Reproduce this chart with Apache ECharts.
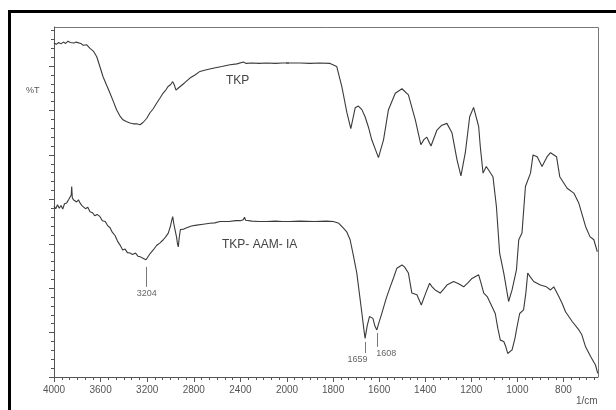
<!DOCTYPE html>
<html>
<head>
<meta charset="utf-8">
<script src="https://cdn.jsdelivr.net/npm/echarts@6/dist/echarts.min.js"></script>
<style>
  html, body { margin: 0; padding: 0; background: #fff; }
  #chart { width: 616px; height: 410px; }
</style>
</head>
<body>
<div id="chart"></div>
<script>
// wavenumber (1/cm), %T (arbitrary)
const tkp = [
  [4000, 75.2], [3980, 74.9], [3960, 75.3], [3940, 75.0], [3920, 75.4], [3900, 75.1],
  [3880, 75.6], [3860, 75.3], [3848, 75.7], [3830, 75.2], [3810, 75.4], [3794, 75.0],
  [3770, 75.1], [3750, 74.7], [3719, 74.8], [3691, 74.0], [3660, 73.3], [3633, 72.1],
  [3605, 69.8], [3579, 67.6], [3550, 65.8], [3519, 63.9], [3490, 62.0], [3462, 60.1],
  [3435, 58.8], [3408, 57.9], [3380, 57.5], [3348, 57.2], [3320, 57.0], [3290, 57.0],
  [3262, 56.8], [3236, 57.3], [3205, 58.2], [3176, 59.5], [3148, 60.4], [3118, 61.7],
  [3090, 62.8], [3064, 63.9], [3040, 64.6], [3021, 65.4], [3000, 65.8], [2981, 66.5],
  [2968, 65.8], [2953, 64.6], [2935, 65.0], [2918, 65.4], [2880, 66.2], [2833, 67.3],
  [2790, 68.0], [2747, 68.8], [2700, 69.1], [2635, 69.5], [2560, 69.9], [2489, 70.3],
  [2430, 70.5], [2375, 70.9], [2350, 70.6], [2300, 70.7], [2240, 70.6], [2174, 70.7],
  [2100, 70.6], [2040, 70.7], [1990, 70.7], [1943, 70.7], [1900, 70.6], [1860, 70.7],
  [1813, 70.6], [1784, 69.9], [1762, 65.4], [1740, 59.5], [1723, 55.9], [1704, 60.6],
  [1690, 61.0], [1675, 60.2], [1661, 58.6], [1645, 56.0], [1632, 53.4], [1603, 49.4],
  [1581, 53.4], [1560, 60.1], [1530, 63.9], [1501, 64.9], [1473, 63.5], [1443, 57.9],
  [1419, 52.3], [1405, 53.5], [1393, 54.0], [1375, 52.0], [1349, 55.6], [1330, 56.6],
  [1306, 57.1], [1284, 55.0], [1262, 48.9], [1245, 45.3], [1226, 50.5], [1207, 58.6],
  [1190, 60.7], [1168, 56.4], [1161, 51.9], [1149, 45.9], [1135, 47.4], [1120, 46.2],
  [1106, 45.1], [1091, 38.4], [1077, 27.9], [1059, 23.4], [1038, 17.0], [1023, 19.6],
  [1004, 24.1], [994, 30.9], [980, 32.4], [965, 42.9], [943, 45.9], [932, 50.0],
  [914, 49.6], [893, 47.4], [871, 49.6], [856, 50.5], [830, 49.6], [816, 45.1],
  [784, 42.5], [755, 41.4], [733, 39.1], [704, 33.9], [685, 31.6], [668, 30.9], [653, 28.2]
];

const tkpAamIa = [
  [4000, 38.4], [3985, 37.9], [3970, 38.8], [3955, 38.0], [3940, 38.6], [3925, 37.8],
  [3910, 39.0], [3891, 39.2], [3875, 39.9], [3860, 39.5], [3852, 41.0], [3848, 42.9],
  [3843, 40.4], [3834, 39.9], [3820, 40.3], [3805, 39.4], [3790, 39.9], [3777, 39.2],
  [3760, 38.6], [3745, 39.0], [3730, 37.9], [3710, 38.2], [3691, 37.2], [3670, 37.0],
  [3650, 36.3], [3630, 36.6], [3605, 36.1], [3585, 35.2], [3560, 35.0], [3540, 34.1],
  [3519, 33.6], [3500, 32.6], [3475, 31.8], [3455, 30.6], [3433, 29.7], [3410, 28.6],
  [3390, 28.8], [3370, 28.0], [3348, 27.9], [3325, 27.6], [3300, 27.9], [3280, 27.2],
  [3262, 27.1], [3240, 26.8], [3225, 27.0], [3210, 26.4], [3195, 26.8], [3175, 27.8],
  [3148, 28.6], [3120, 29.6], [3090, 30.2], [3062, 30.9], [3040, 31.6], [3019, 32.4],
  [3000, 34.0], [2990, 35.2], [2981, 36.1], [2972, 34.6], [2961, 33.1], [2948, 31.5],
  [2940, 30.0], [2933, 29.3], [2925, 31.4], [2915, 33.2], [2904, 33.6], [2885, 33.3],
  [2861, 33.6], [2820, 34.0], [2775, 34.2], [2720, 34.4], [2661, 34.6], [2620, 34.7],
  [2575, 35.0], [2500, 35.0], [2440, 35.2], [2400, 35.2], [2375, 35.4], [2365, 36.0],
  [2355, 35.3], [2300, 35.1], [2240, 35.0], [2174, 35.0], [2100, 35.1], [2040, 35.0],
  [1990, 35.0], [1943, 35.1], [1880, 35.0], [1830, 35.1], [1799, 35.0], [1775, 34.6],
  [1755, 33.5], [1740, 32.6], [1726, 30.9], [1712, 27.4], [1697, 23.4], [1685, 18.5],
  [1675, 14.4], [1667, 11.0], [1661, 8.7], [1652, 11.5], [1642, 13.6], [1635, 13.8],
  [1627, 13.2], [1618, 11.4], [1610, 10.6], [1600, 12.4], [1588, 14.4], [1570, 17.6],
  [1552, 20.3], [1537, 22.4], [1523, 24.5], [1501, 25.2], [1490, 24.8], [1473, 23.4],
  [1458, 18.9], [1436, 18.5], [1417, 16.2], [1400, 18.6], [1381, 21.1], [1370, 20.3],
  [1357, 19.6], [1335, 18.9], [1320, 19.8], [1306, 20.7], [1277, 21.5], [1255, 21.0],
  [1233, 20.3], [1215, 21.2], [1197, 22.2], [1168, 23.0], [1158, 21.2], [1146, 18.9],
  [1131, 18.1], [1117, 16.6], [1096, 14.3], [1085, 11.0], [1074, 8.3], [1059, 8.0],
  [1050, 6.8], [1042, 5.3], [1023, 6.1], [1010, 8.8], [1004, 10.6], [990, 14.3],
  [973, 15.1], [963, 19.0], [955, 23.4], [945, 22.6], [929, 21.5], [900, 20.7],
  [874, 20.3], [856, 19.6], [842, 20.3], [820, 18.1], [805, 16.5], [791, 14.7],
  [762, 12.5], [733, 10.6], [720, 9.5], [704, 6.8], [682, 4.6], [661, 2.7], [651, 0.8]
];

// peak markers: [wavenumber, top, bottom]
const peak3204 = [3204, 24.8, 20.3];
const peak1659 = [1659, 7.9, 5.4];
const peak1608 = [1608, 9.9, 6.8];

// tick labels, the x scale changes at 2000
const ticksLow = [800, 1000, 1200, 1400, 1600, 1800, 2000];
const yTicks = [0, 10, 20, 30, 40, 50, 60, 70];

// minor ticks, 6 per major step in the low range
const minorLow = [];
for (let v = 2000; v > 650; v -= 200 / 6) minorLow.push(Math.round(v * 100) / 100);

const lineColor = "#3a3a3a";
const axisColor = "#555";
const labelStyle = {
  color: "#555",
  fontSize: 10,
  fontFamily: "Liberation Sans",
  margin: 8,
  formatter: (v) => String(v),
};

const peakLabel = {
  show: true,
  position: "end",
  color: "#666",
  fontSize: 9,
  fontFamily: "Liberation Sans",
  distance: 2,
};

let chartDom = document.getElementById("chart");
let myChart = echarts.init(chartDom);

let options = {
  backgroundColor: "#fff",
  animation: false,
  grid: [
    { left: 54, top: 27, width: 233, height: 350 },
    { left: 287, top: 27, width: 311, height: 350 },
  ],
  xAxis: [
    {
      gridIndex: 0,
      type: "value",
      position: "bottom",
      inverse: true,
      min: 2000,
      max: 4000,
      interval: 400,
      axisLine: { lineStyle: { color: axisColor } },
      axisTick: { length: 5, lineStyle: { color: axisColor } },
      minorTick: { show: true, splitNumber: 6, length: 3, lineStyle: { color: axisColor } },
      splitLine: { show: false },
      axisLabel: Object.assign({ showMinLabel: false }, labelStyle),
    },
    {
      gridIndex: 1,
      type: "value",
      position: "bottom",
      inverse: true,
      min: 650,
      max: 2000,
      axisLine: { lineStyle: { color: axisColor } },
      axisTick: { length: 5, customValues: ticksLow, lineStyle: { color: axisColor } },
      splitLine: { show: false },
      axisLabel: Object.assign({ customValues: ticksLow }, labelStyle),
    },
    {
      gridIndex: 1,
      type: "value",
      position: "bottom",
      offset: 0,
      inverse: true,
      min: 650,
      max: 2000,
      axisLine: { show: false },
      axisTick: { length: 3, customValues: minorLow, lineStyle: { color: axisColor } },
      splitLine: { show: false },
      axisLabel: { show: false },
    },
  ],
  yAxis: [
    {
      gridIndex: 0,
      type: "value",
      min: 0,
      max: 78.8,
      interval: 10,
      axisLine: { show: true, lineStyle: { color: axisColor } },
      axisTick: { show: true, length: 5, customValues: yTicks, lineStyle: { color: axisColor } },
      minorTick: { show: true, splitNumber: 5, length: 3, lineStyle: { color: axisColor } },
      splitLine: { show: false },
      axisLabel: { show: false },
    },
    {
      gridIndex: 1,
      type: "value",
      min: 0,
      max: 78.8,
      show: false,
    },
  ],
  series: [
    {
      name: "TKP",
      type: "line",
      xAxisIndex: 0,
      yAxisIndex: 0,
      data: tkp,
      showSymbol: false,
      clip: true,
      lineStyle: { color: lineColor, width: 1.1 },
    },
    {
      name: "TKP",
      type: "line",
      xAxisIndex: 1,
      yAxisIndex: 1,
      data: tkp,
      showSymbol: false,
      clip: true,
      lineStyle: { color: lineColor, width: 1.1 },
    },
    {
      name: "TKP- AAM- IA",
      type: "line",
      xAxisIndex: 0,
      yAxisIndex: 0,
      data: tkpAamIa,
      showSymbol: false,
      clip: true,
      lineStyle: { color: lineColor, width: 1.1 },
      markLine: {
        silent: true,
        symbol: "none",
        lineStyle: { color: "#777", width: 1, type: "solid" },
        label: Object.assign({ formatter: String(peak3204[0]) }, peakLabel),
        data: [[{ coord: [peak3204[0], peak3204[1]] }, { coord: [peak3204[0], peak3204[2]] }]],
      },
    },
    {
      name: "TKP- AAM- IA",
      type: "line",
      xAxisIndex: 1,
      yAxisIndex: 1,
      data: tkpAamIa,
      showSymbol: false,
      clip: true,
      lineStyle: { color: lineColor, width: 1.1 },
      markLine: {
        silent: true,
        symbol: "none",
        lineStyle: { color: "#777", width: 1, type: "solid" },
        data: [
          [
            { coord: [peak1659[0], peak1659[1]] },
            {
              coord: [peak1659[0], peak1659[2]],
              label: Object.assign({ formatter: "1659", padding: [0, 16, 0, 0] }, peakLabel),
            },
          ],
          [
            { coord: [peak1608[0], peak1608[1]] },
            {
              coord: [peak1608[0], peak1608[2]],
              label: Object.assign({ formatter: "1608", padding: [0, 0, 0, 18] }, peakLabel),
            },
          ],
        ],
      },
    },
  ],
  graphic: [
    // outer frame
    { type: "rect", shape: { x: 8, y: 10, width: 608, height: 3 }, style: { fill: "#000" } },
    { type: "rect", shape: { x: 8, y: 10, width: 3, height: 400 }, style: { fill: "#000" } },
    // plot box top and right
    {
      type: "polyline",
      shape: { points: [[54, 27.5], [598.5, 27.5], [598.5, 377]] },
      style: { stroke: "#777", lineWidth: 1, fill: null },
    },
    { type: "text", left: 26, top: 86, style: { text: "%T", fill: "#555", fontSize: 9, fontFamily: "Liberation Sans" } },
    { type: "text", left: 226, top: 75, style: { text: "TKP", fill: "#444", fontSize: 12, fontFamily: "Liberation Sans" } },
    { type: "text", left: 222, top: 239, style: { text: "TKP- AAM- IA", fill: "#444", fontSize: 12, fontFamily: "Liberation Sans" } },
    { type: "text", left: 576, top: 396, style: { text: "1/cm", fill: "#555", fontSize: 10, fontFamily: "Liberation Sans" } },
  ],
};

options && myChart.setOption(options);
window.onresize = myChart.resize;
</script>
</body>
</html>
